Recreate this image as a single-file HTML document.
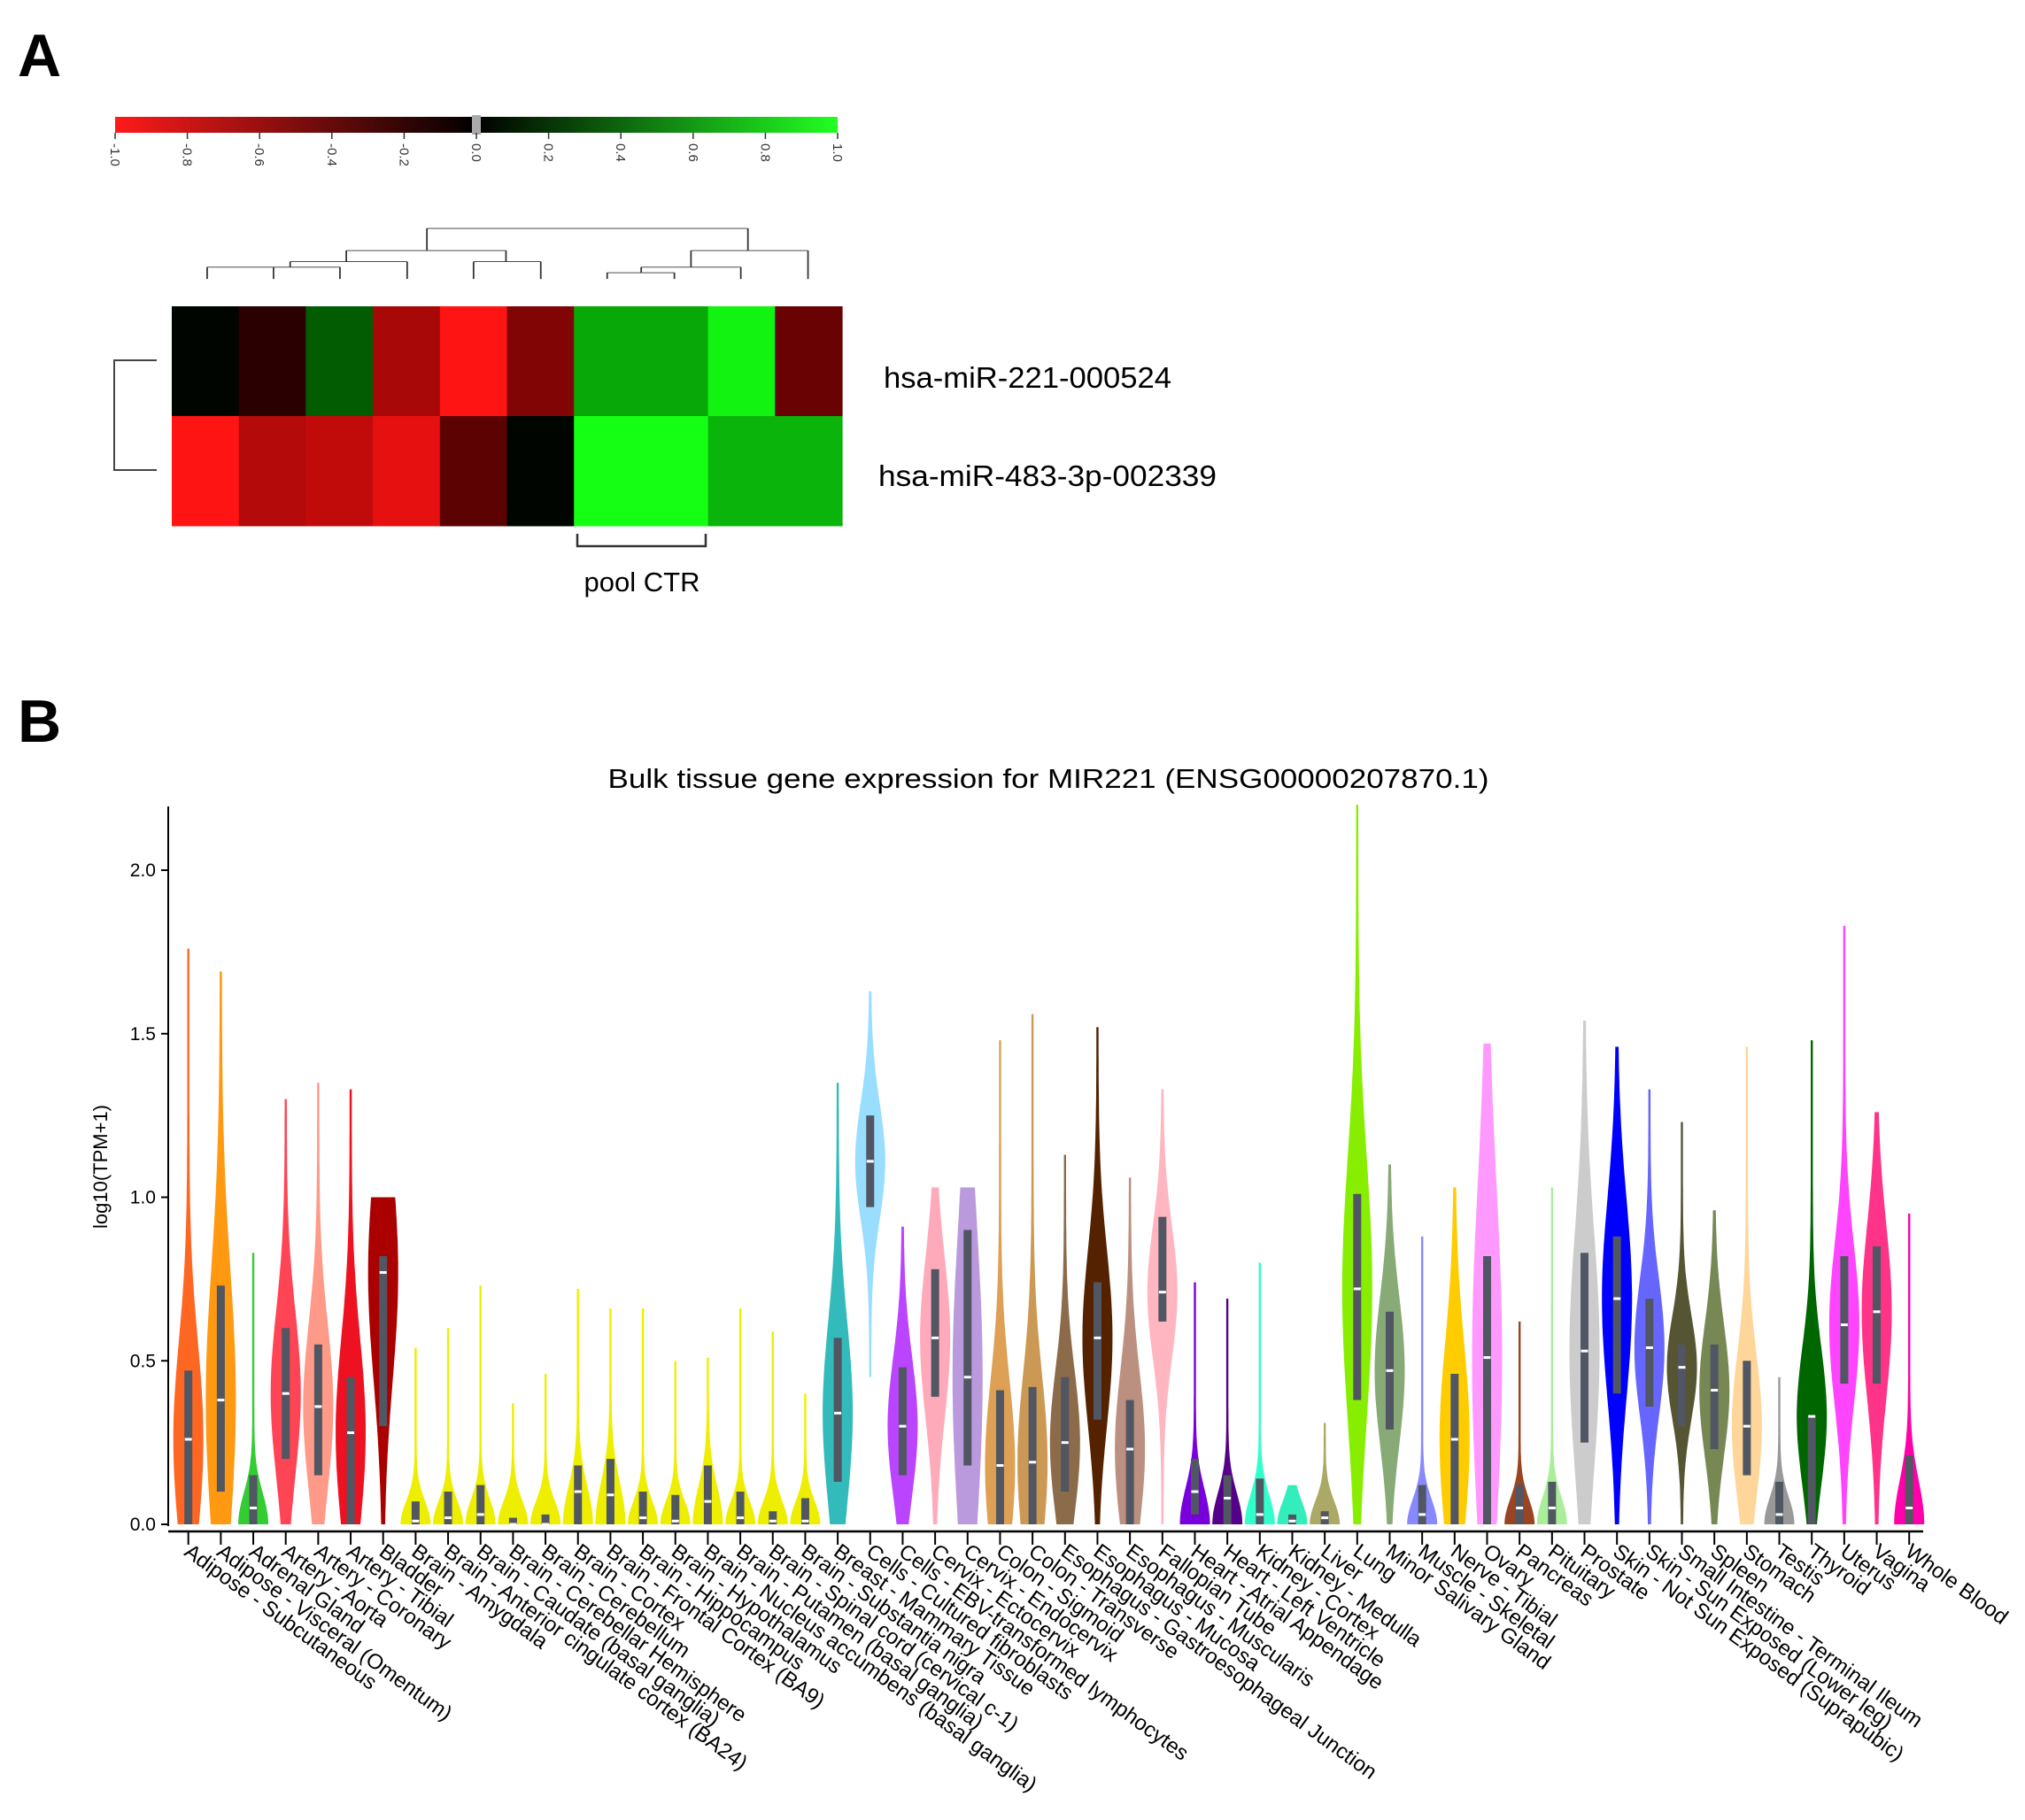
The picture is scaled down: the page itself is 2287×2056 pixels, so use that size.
<!DOCTYPE html>
<html><head><meta charset="utf-8"><style>
html,body{margin:0;padding:0;background:#fff;}
svg{display:block;font-family:"Liberation Sans",Arial,sans-serif;}
</style></head><body>
<svg id="fig" width="2287" height="2056" viewBox="0 0 2287 2056" xmlns="http://www.w3.org/2000/svg">
<defs>
<linearGradient id="cbg" x1="0" x2="1" y1="0" y2="0"><stop offset="0" stop-color="#ff1a1a"/><stop offset="0.5" stop-color="#000"/><stop offset="1" stop-color="#22ff22"/></linearGradient>
</defs>
<rect width="2287" height="2056" fill="#fff"/>
<text x="20" y="86" font-size="68" font-weight="bold">A</text>
<text x="20" y="838" font-size="68" font-weight="bold">B</text>
<g id="colorbar"></g>
<g stroke="#333" stroke-width="2" fill="none" transform="scale(0.8929,0.4464)">
<path d="M262 676H430M262 676V706M346 676V706M430 676V706M367 662H515M367 662V676M515 662V706M438 634H640M438 634V662M640 634V662M599 662H684M599 662V706M684 662V706M540 578H946M540 578V634M946 578V634M768 690H853M768 690V706M853 690V706M811 676H937M811 676V690M937 676V706M874 634H1022M874 634V676M1022 634V706"/>
</g>
<path d="M177 407H129V531H177" stroke="#444" stroke-width="2" fill="none"/>
<g id="heatmap"></g>
<text x="998" y="438" font-size="33" textLength="325" lengthAdjust="spacingAndGlyphs">hsa-miR-221-000524</text>
<text x="992" y="549" font-size="33" textLength="382" lengthAdjust="spacingAndGlyphs">hsa-miR-483-3p-002339</text>
<path d="M652 603V617H797V603" stroke="#333" stroke-width="2.5" fill="none"/>
<text x="725" y="668" font-size="31" text-anchor="middle">pool CTR</text>
<text x="1184" y="890" font-size="31" text-anchor="middle" textLength="995" lengthAdjust="spacingAndGlyphs">Bulk tissue gene expression for MIR221 (ENSG00000207870.1)</text>
<text transform="translate(121,1318) rotate(-90)" font-size="22" text-anchor="middle">log10(TPM+1)</text>
<g id="plot"></g>
</svg>
<script>
// ---------- heatmap data ----------
var hmRow1 = [0.0, -0.15, 0.35, -0.65, -1.0, -0.5, 0.65, 0.65, 0.95, -0.4];
var hmRow2 = [-1.0, -0.7, -0.75, -0.9, -0.35, 0.0, 1.0, 1.0, 0.7, 0.7];
var cbTicks = ["-1.0","-0.8","-0.6","-0.4","-0.2","0.0","0.2","0.4","0.6","0.8","1.0"];
// ---------- violin data ----------
var tissues = ["Adipose - Subcutaneous","Adipose - Visceral (Omentum)","Adrenal Gland","Artery - Aorta","Artery - Coronary","Artery - Tibial","Bladder","Brain - Amygdala","Brain - Anterior cingulate cortex (BA24)","Brain - Caudate (basal ganglia)","Brain - Cerebellar Hemisphere","Brain - Cerebellum","Brain - Cortex","Brain - Frontal Cortex (BA9)","Brain - Hippocampus","Brain - Hypothalamus","Brain - Nucleus accumbens (basal ganglia)","Brain - Putamen (basal ganglia)","Brain - Spinal cord (cervical c-1)","Brain - Substantia nigra","Breast - Mammary Tissue","Cells - Cultured fibroblasts","Cells - EBV-transformed lymphocytes","Cervix - Ectocervix","Cervix - Endocervix","Colon - Sigmoid","Colon - Transverse","Esophagus - Gastroesophageal Junction","Esophagus - Mucosa","Esophagus - Muscularis","Fallopian Tube","Heart - Atrial Appendage","Heart - Left Ventricle","Kidney - Cortex","Kidney - Medulla","Liver","Lung","Minor Salivary Gland","Muscle - Skeletal","Nerve - Tibial","Ovary","Pancreas","Pituitary","Prostate","Skin - Not Sun Exposed (Suprapubic)","Skin - Sun Exposed (Lower leg)","Small Intestine - Terminal Ileum","Spleen","Stomach","Testis","Thyroid","Uterus","Vagina","Whole Blood"];
var colors = ["#FF6622","#FF9911","#33CC33","#FF4455","#FF9988","#EE1122","#AA0000","#EEEE00","#EEEE00","#EEEE00","#EEEE00","#EEEE00","#EEEE00","#EEEE00","#EEEE00","#EEEE00","#EEEE00","#EEEE00","#EEEE00","#EEEE00","#33BBBB","#99DDFF","#BB44FF","#FFAABB","#BB99DD","#DDA055","#CC9955","#8B6B4A","#552200","#BB9080","#FFB6C1","#7700DD","#550088","#33FFCC","#33EEBB","#AAAA66","#88EE00","#88AA77","#8888FF","#FFCC00","#FF99FF","#994422","#AAEE99","#CCCCCC","#0000FF","#6666FF","#555533","#778855","#FFD699","#999999","#006600","#FF44FF","#FF3388","#FF00AA"];
var vTop = [1.76,1.69,0.83,1.30,1.35,1.33,1.00,0.54,0.60,0.73,0.37,0.46,0.72,0.66,0.66,0.50,0.51,0.66,0.59,0.40,1.35,1.63,0.91,1.03,1.03,1.48,1.56,1.13,1.52,1.06,1.33,0.74,0.69,0.80,0.12,0.31,2.20,1.10,0.88,1.03,1.47,0.62,1.03,1.54,1.46,1.33,1.23,0.96,1.46,0.45,1.48,1.83,1.26,0.95];
var vBottom = [0,0,0,0,0,0,0,0,0,0,0,0,0,0,0,0,0,0,0,0,0,0.45,0,0,0,0,0,0,0,0,0,0,0,0,0,0,0,0,0,0,0,0,0,0,0,0,0,0,0,0,0,0,0,0];
var vQ1 = [0.0,0.10,0.0,0.20,0.15,0.0,0.30,0,0,0,0,0,0,0,0,0,0,0,0,0,0.13,0.97,0.15,0.39,0.18,0.0,0.0,0.10,0.32,0.0,0.62,0.03,0.0,0.0,0,0,0.38,0.29,0.0,0.0,0.0,0.0,0.0,0.25,0.40,0.36,0.30,0.23,0.15,0.0,0.0,0.43,0.43,0.0];
var vMed = [0.26,0.38,0.05,0.40,0.36,0.28,0.77,0.01,0.02,0.03,0.0,0.0,0.10,0.09,0.02,0.01,0.07,0.02,0.01,0.01,0.34,1.11,0.30,0.57,0.45,0.18,0.19,0.25,0.57,0.23,0.71,0.10,0.08,0.03,0.01,0.02,0.72,0.47,0.03,0.26,0.51,0.05,0.05,0.53,0.69,0.54,0.48,0.41,0.30,0.03,0.33,0.61,0.65,0.05];
var vQ3 = [0.47,0.73,0.15,0.60,0.55,0.45,0.82,0.07,0.10,0.12,0.02,0.03,0.18,0.20,0.10,0.09,0.18,0.10,0.04,0.08,0.57,1.25,0.48,0.78,0.90,0.41,0.42,0.45,0.74,0.38,0.94,0.20,0.15,0.14,0.03,0.04,1.01,0.65,0.12,0.46,0.82,0.12,0.13,0.83,0.88,0.69,0.55,0.55,0.50,0.13,0.33,0.82,0.85,0.21];
var yTicks = ["0.0","0.5","1.0","1.5","2.0"];

var SVGNS = "http://www.w3.org/2000/svg";
function mk(tag, attrs, parentEl) {
  var e = document.createElementNS(SVGNS, tag);
  for (var k in attrs) { e.setAttribute(k, String(attrs[k])); }
  parentEl.appendChild(e);
  return e;
}
function heatColor(v) {
  var a = Math.min(1, Math.abs(v));
  var c = Math.round(5 + 250 * a);
  var o = Math.round(20 * a * a);
  if (v < 0) { return "rgb(" + c + "," + o + "," + o + ")"; }
  return "rgb(" + o + "," + c + "," + o + ")";
}

// colorbar
try {
  var cbG = document.getElementById("colorbar");
  var cbX0 = 130, cbX1 = 946;
  var cbScale = function (v) { return cbX0 + (v + 1) / 2 * (cbX1 - cbX0); };
  mk("rect", {x: cbX0, y: 132, width: cbX1 - cbX0, height: 18, fill: "url(#cbg)"}, cbG);
  mk("rect", {x: cbScale(0) - 5, y: 130, width: 10, height: 22, fill: "#aaa"}, cbG);
  for (var ti = 0; ti < cbTicks.length; ti++) {
    var tv = parseFloat(cbTicks[ti]);
    var tx0 = cbScale(tv);
    mk("line", {x1: tx0, x2: tx0, y1: 150, y2: 157, stroke: "#333", "stroke-width": 1.5}, cbG);
    var ctl = mk("text", {transform: "translate(" + (tx0 - 5) + ",162) rotate(90)", "font-size": 15, fill: "#333"}, cbG);
    ctl.textContent = cbTicks[ti];
    
    
  }
} catch (err) {}

// heatmap
try {
  var hmG = document.getElementById("heatmap");
  var hmX = 194, hmY = 346, cellW = 75.7, cellH = 124;
  var rows = [hmRow1, hmRow2];
  for (var r = 0; r < rows.length; r++) {
    for (var c = 0; c < rows[r].length; c++) {
      var cell = mk("rect", {x: hmX + c * cellW, y: hmY + r * cellH, width: cellW + 0.6, height: cellH + 0.5, fill: heatColor(rows[r][c])}, hmG);
      
      
    }
  }
} catch (err) {}

// violin plot
try {
  var plotG = document.getElementById("plot");
  var baseY = 1722, unitPx = 369.5, axX = 190;
  var yS = function (v) { return baseY - v * unitPx; };
  var xS = function (i) { return 212.7 + 36.67 * i; };
  mk("line", {x1: axX, x2: axX, y1: 911, y2: baseY + 2, stroke: "#000", "stroke-width": 2}, plotG);
  for (var yi = 0; yi < yTicks.length; yi++) {
    var yy = yS(parseFloat(yTicks[yi]));
    mk("line", {x1: axX - 8, x2: axX, y1: yy, y2: yy, stroke: "#000", "stroke-width": 2}, plotG);
    var ytl = mk("text", {x: axX - 14, y: yy + 7, "font-size": 21, "text-anchor": "end"}, plotG);
    ytl.textContent = yTicks[yi];
    
    
  }
  mk("line", {x1: axX, x2: 2172, y1: 1730, y2: 1730, stroke: "#000", "stroke-width": 2.5}, plotG);
  var HW = 17;
  for (var i = 0; i < tissues.length; i++) {
    var cx = xS(i), vt = vTop[i], vb = vBottom[i], q1 = vQ1[i], q3 = vQ3[i], md = vMed[i];
    var mode = md > 0.15 ? md : vb;
    var sd = Math.max(0.1, (q3 - q1) * 0.9);
    var pts = [], N = 60;
    for (var k = 0; k <= N; k++) {
      var v = vb + (vt - vb) * k / N;
      var w = HW * (0.07 + 0.93 * Math.exp(-Math.pow((v - mode) / sd, 2)));
      pts.push([v, w]);
    }
    var d = "M" + cx + "," + yS(vb);
    for (k = 0; k < pts.length; k++) { d += "L" + (cx + pts[k][1]).toFixed(1) + "," + yS(pts[k][0]).toFixed(1); }
    d += "L" + cx + "," + yS(vt);
    for (k = pts.length - 1; k >= 0; k--) { d += "L" + (cx - pts[k][1]).toFixed(1) + "," + yS(pts[k][0]).toFixed(1); }
    d += "Z";
    var vp = mk("path", {d: d, fill: colors[i]}, plotG);
    
    
    var bx = mk("rect", {x: cx - 4.5, y: yS(q3), width: 9, height: Math.max(2, yS(q1) - yS(q3)), fill: "#505662"}, plotG);
    
    
    var ml = mk("rect", {x: cx - 4, y: yS(md) - 1.5, width: 8, height: 3, fill: "#fff"}, plotG);
    
    
    mk("line", {x1: cx, x2: cx, y1: 1731, y2: 1745, stroke: "#000", "stroke-width": 2}, plotG);
    var xl = mk("text", {transform: "translate(" + (cx - 6) + ",1756) rotate(36)", "font-size": 24}, plotG);
    xl.textContent = tissues[i];
    
    
  }
} catch (err) {}
</script>
</body></html>
